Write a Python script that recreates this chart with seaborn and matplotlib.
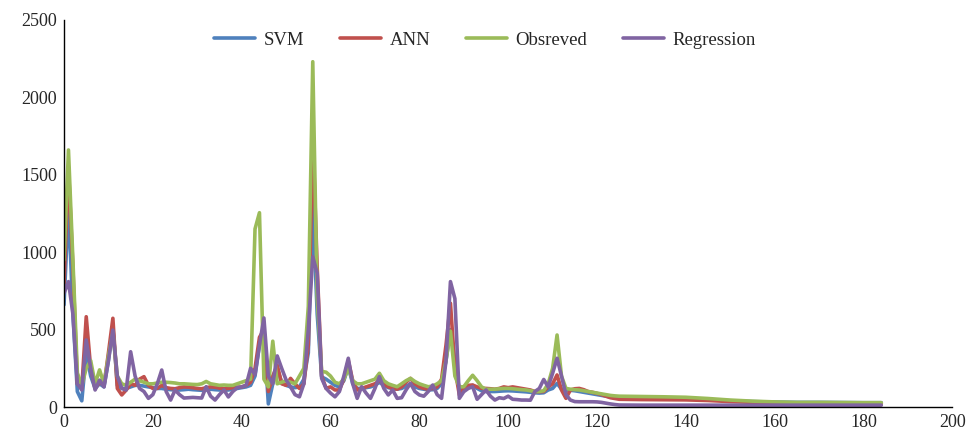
import numpy as np
import pandas as pd
import seaborn as sns
import matplotlib.pyplot as plt

# x positions: one point per step up to 125, then a sparse tail
x = list(range(0, 126)) + [130, 135, 140, 145, 150, 155, 160, 165, 170, 175, 180, 184]

svm = [660, 1305, 600, 100, 40, 350, 200, 120, 150, 130, 300, 520, 140, 120, 120, 130, 140, 140, 135, 130, 125, 120, 120,
       115, 112, 110, 110, 112, 115, 112, 110, 108, 110, 115, 112, 110, 108, 110, 115, 120, 125, 130, 140,
       200, 400, 480, 20, 150, 250, 160, 140, 130, 125, 130, 180, 350, 1318, 600, 195, 180, 160, 140, 130, 170, 260,
       150, 120, 120, 125, 130, 140, 160, 140, 125, 120, 115, 120, 135, 150, 130, 120, 115, 110, 112, 120, 150, 300,
       500, 300, 110, 115, 130, 140, 120, 105, 100, 100, 100, 102, 104, 105, 104, 102, 100, 98, 95, 92, 90, 92,
       110, 120, 153, 115, 110, 108, 105, 100, 95, 90, 85, 80, 75, 70, 66, 64, 62,
       60, 58, 55, 48, 40, 35, 32, 30, 30, 29, 28, 28]

ann = [800, 1550, 900, 150, 120, 583, 250, 120, 160, 140, 350, 573, 120, 78, 110, 150, 140, 180, 196, 140, 120, 120, 140,
       125, 120, 118, 125, 130, 128, 125, 120, 118, 125, 130, 128, 122, 118, 120, 125, 128, 130, 140, 160,
       250, 450, 500, 100, 200, 271, 150, 140, 185, 150, 120, 150, 400, 1760, 900, 200, 121, 130, 110, 110, 180, 300,
       170, 110, 120, 130, 140, 150, 170, 150, 130, 120, 115, 130, 160, 185, 150, 130, 120, 115, 120, 130, 180, 400,
       670, 250, 78, 120, 140, 142, 130, 120, 120, 118, 115, 120, 130, 125, 130, 125, 120, 115, 110, 100, 99, 100,
       130, 150, 207, 110, 56, 110, 118, 120, 112, 100, 95, 88, 80, 70, 60, 55, 50,
       48, 47, 46, 42, 35, 30, 27, 25, 24, 24, 23, 23]

observed = [950, 1660, 950, 220, 140, 250, 300, 150, 240, 150, 330, 480, 200, 150, 140, 160, 180, 170, 160, 150, 150, 155, 160,
            160, 158, 155, 150, 150, 148, 146, 145, 150, 165, 150, 145, 140, 142, 140, 140, 150, 160, 170, 180,
            1150, 1255, 180, 130, 425, 150, 160, 170, 160, 150, 200, 250, 650, 2230, 700, 230, 225, 200, 160, 150, 180, 250,
            170, 150, 150, 160, 170, 180, 218, 170, 150, 140, 131, 150, 170, 185, 165, 150, 140, 131, 135, 150, 170, 300,
            490, 200, 130, 131, 170, 205, 170, 130, 115, 115, 115, 118, 120, 120, 118, 115, 112, 110, 105, 100, 100, 105,
            150, 250, 465, 200, 120, 115, 112, 110, 105, 100, 95, 90, 85, 80, 75, 72, 70,
            68, 66, 63, 55, 45, 38, 33, 30, 30, 29, 28, 28]

regression = [735, 810, 600, 150, 110, 433, 250, 110, 174, 130, 300, 497, 200, 120, 110, 357, 200, 120, 100, 56, 80, 150, 239,
              100, 45, 110, 80, 58, 60, 62, 60, 58, 131, 70, 45, 80, 110, 65, 100, 125, 130, 140, 250,
              210, 400, 575, 200, 150, 330, 250, 175, 130, 80, 66, 150, 500, 971, 865, 185, 120, 90, 66, 100, 200, 315,
              150, 56, 131, 90, 56, 120, 196, 120, 78, 110, 56, 60, 110, 153, 100, 78, 70, 100, 142, 80, 56, 300,
              810, 700, 56, 99, 120, 131, 50, 80, 110, 70, 45, 60, 55, 70, 50, 48, 45, 45, 44, 100, 120, 178,
              130, 218, 315, 200, 80, 45, 35, 34, 34, 34, 34, 33, 30, 25, 20, 16, 13,
              12, 12, 12, 12, 12, 12, 12, 12, 12, 12, 12, 12]

labels = ["SVM", "ANN", "Obsreved", "Regression"]
c = ["#4F81BD", "#C0504D", "#9BBB59", "#8064A2"]

df = pd.concat([pd.DataFrame({"x": x, "value": v, "model": lab})
                for v, lab in zip([svm, ann, observed, regression], labels)])

sns.set_style("white")
plt.rcParams['font.family'] = ['Liberation Serif', 'DejaVu Serif']

fig = plt.figure(figsize=(9.73, 4.33), dpi=100)
ax = fig.add_axes([0.0658, 0.060, 0.913, 0.894])

sns.lineplot(data=df, x="x", y="value", hue="model", hue_order=labels, palette=c,
             linewidth=2.6, sort=False, ax=ax, solid_joinstyle="round", solid_capstyle="round")

ax.set_xlim(0, 200)
ax.set_ylim(0, 2500)
ax.set_xticks(range(0, 201, 20))
ax.set_yticks(range(0, 2501, 500))
ax.set_xlabel("")
ax.set_ylabel("")
ax.tick_params(axis="both", length=0, labelsize=13, pad=5)

for side in ["top", "right"]:
    ax.spines[side].set_visible(False)
for side in ["left", "bottom"]:
    ax.spines[side].set_color("black")
    ax.spines[side].set_linewidth(1.0)

ax.legend(loc="center", bbox_to_anchor=(0.474, 0.948), ncol=4, frameon=False,
          fontsize=13.5, handlelength=2.2, columnspacing=1.9, handletextpad=0.45)

plt.savefig("out.png", dpi=100)
